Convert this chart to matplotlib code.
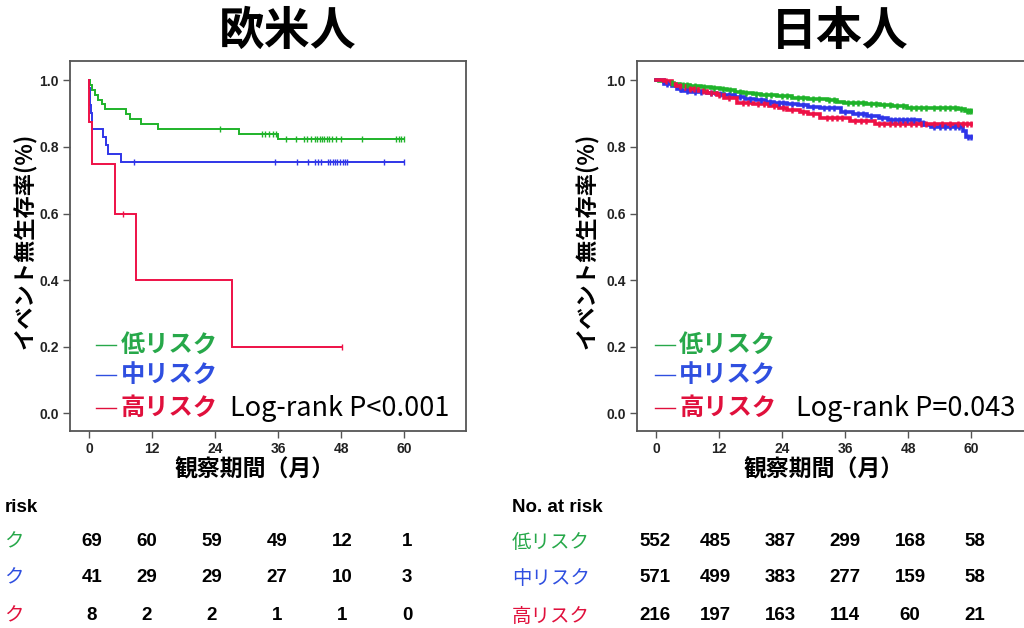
import numpy as np
import matplotlib
matplotlib.use("Agg")
import matplotlib.pyplot as plt

plt.rcParams['font.family'] = ['Noto Sans CJK JP', 'DejaVu Sans']

# ---------------- data ----------------
group_labels = ["低リスク", "中リスク", "高リスク"]
titles = ["欧米人", "日本人"]
pvalues = ["Log-rank P<0.001", "Log-rank P=0.043"]
x_ticks = [0, 12, 24, 36, 48, 60]
y_ticks = [0.0, 0.2, 0.4, 0.6, 0.8, 1.0]

# Western (欧米人) Kaplan-Meier steps: event times and survival after each step
eu_low_t = [0, 0.2, 0.5, 1.1, 1.7, 2.4, 3.0, 7.1, 7.8, 10.0, 13.1, 28.6, 36.0]
eu_low_s = [1.0, 0.986, 0.971, 0.957, 0.942, 0.928, 0.913, 0.899, 0.884, 0.870, 0.855, 0.840, 0.824]
eu_low_end = 60.0
eu_low_cens = [24.9, 32.9, 33.5, 34.2, 35.0, 35.6, 37.5, 39.5, 41.0, 41.6, 42.3, 43.0,
               43.5, 44.0, 44.4, 44.8, 45.3, 45.7, 46.3, 47.0, 48.0, 52.0, 58.5, 59.0, 59.5, 60.0]

eu_mid_t = [0, 0.1, 0.2, 0.3, 0.4, 0.5, 0.6, 2.7, 3.2, 3.7, 6.2]
eu_mid_s = [1.0, 0.976, 0.951, 0.927, 0.902, 0.878, 0.854, 0.829, 0.805, 0.780, 0.756]
eu_mid_end = 60.0
eu_mid_cens = [8.6, 35.4, 39.7, 41.8, 43.1, 43.6, 44.1, 45.5, 45.9, 46.4, 46.8, 47.2,
               47.8, 48.3, 48.8, 49.2, 56.1, 60.0]

eu_high_t = [0, 0.1, 0.6, 4.9, 8.9, 27.3]
eu_high_s = [1.0, 0.875, 0.75, 0.6, 0.4, 0.2]
eu_high_end = 48.1
eu_high_cens = [6.5, 48.1]

# Japanese (日本人)
jp_low_t = [0, 0.5, 1.5, 2.5, 3.5, 4.6, 6.5, 8.5, 10.5, 12.2, 13.5, 15.0, 16.5, 18.5, 20.0,
            23.0, 26.0, 29.0, 32.6, 34.5, 35.8, 40.0, 42.7, 45.0, 47.8, 52.0, 57.5, 58.8]
jp_low_s = [1.0, 0.998, 0.996, 0.993, 0.990, 0.986, 0.984, 0.981, 0.978, 0.975, 0.971, 0.966,
            0.962, 0.958, 0.955, 0.952, 0.948, 0.944, 0.940, 0.936, 0.933, 0.930, 0.927, 0.923,
            0.918, 0.916, 0.914, 0.908]
jp_low_end = 60.0
jp_low_cens = [3.0, 5.2, 6.0, 7.4, 9.1, 11.0, 12.8, 14.2, 16.0, 17.2, 19.0, 21.0, 22.0, 24.0,
               25.0, 27.0, 28.0, 30.0, 31.0, 33.0, 34.0, 36.5, 37.5, 38.5, 39.5, 41.0, 42.0,
               43.5, 44.5, 46.0, 47.0, 48.5, 49.5, 50.5, 51.5, 53.0, 54.0, 55.0, 56.0, 57.0,
               58.0, 59.2, 59.6, 60.0]

jp_mid_t = [0, 1.5, 3.0, 4.0, 5.0, 6.5, 9.7, 11.5, 13.0, 15.0, 17.0, 19.0, 21.0, 22.4, 25.0,
            27.0, 29.0, 31.3, 35.2, 37.5, 40.2, 42.5, 44.1, 50.2, 51.1, 52.4, 58.5, 59.1]
jp_mid_s = [1.0, 0.990, 0.982, 0.975, 0.968, 0.966, 0.962, 0.958, 0.955, 0.950, 0.945, 0.940,
            0.936, 0.932, 0.929, 0.925, 0.921, 0.916, 0.905, 0.900, 0.893, 0.887, 0.881, 0.872,
            0.865, 0.861, 0.848, 0.830]
jp_mid_end = 60.0
jp_mid_cens = [2.2, 4.5, 6.0, 7.5, 8.5, 10.5, 12.2, 14.0, 16.0, 18.0, 20.0, 21.8, 23.5, 24.2,
               26.0, 28.0, 30.0, 32.0, 33.0, 34.0, 36.0, 38.5, 39.5, 41.0, 43.0, 44.8, 45.5,
               46.2, 47.0, 47.8, 48.5, 49.2, 50.8, 53.0, 54.0, 55.0, 56.0, 57.0, 57.8, 59.5, 60.0]

jp_high_t = [0, 1.5, 3.0, 3.9, 5.8, 8.0, 9.7, 11.6, 13.0, 15.4, 18.5, 21.5, 23.5, 25.0, 27.5,
             29.0, 31.3, 37.0, 41.8]
jp_high_s = [1.0, 0.998, 0.990, 0.982, 0.974, 0.968, 0.963, 0.955, 0.948, 0.932, 0.928, 0.923,
             0.918, 0.912, 0.905, 0.898, 0.887, 0.878, 0.868]
jp_high_end = 60.0
jp_high_cens = [2.0, 4.5, 6.5, 7.2, 9.0, 10.5, 12.0, 14.0, 16.5, 17.5, 19.5, 20.5, 22.5, 24.2,
                26.0, 28.0, 30.0, 32.5, 33.5, 34.5, 35.5, 38.0, 39.0, 40.0, 42.5, 43.5, 44.5,
                45.5, 46.5, 47.5, 48.5, 49.5, 50.5, 51.5, 53.0, 54.5, 56.0, 57.5, 58.5, 59.3, 60.0]

# numbers at risk
risk_times = [0, 12, 24, 36, 48, 60]
eu_risk_low = [69, 60, 59, 49, 12, 1]
eu_risk_mid = [41, 29, 29, 27, 10, 3]
eu_risk_high = [8, 2, 2, 1, 1, 0]
jp_risk_low = [552, 485, 387, 299, 168, 58]
jp_risk_mid = [571, 499, 383, 277, 159, 58]
jp_risk_high = [216, 197, 163, 114, 60, 21]

# ---------------- style ----------------
line_colors = ["#1fb32a", "#2f35e8", "#ee1146"]
text_colors = ["#27a84a", "#2f4fe0", "#e0103c"]
W, H = 1024, 628

fig = plt.figure(figsize=(W / 100, H / 100), dpi=100)


def fx(px):
    return px / W


def fy(py):
    return 1 - py / H


def km(ax, t, s, end, cens, color, lw, ms, mew):
    tt = list(t) + [end]
    ss = list(s) + [s[-1]]
    ax.step(tt, ss, where='post', color=color, lw=lw, solid_joinstyle='miter', zorder=3)
    t_arr = np.asarray(t)
    s_arr = np.asarray(s)
    idx = np.searchsorted(t_arr, np.asarray(cens), side='right') - 1
    ax.plot(cens, s_arr[idx], ls='none', marker='|', color=color,
            ms=ms, mew=mew, zorder=4)


panels = [
    dict(left=70, curves=[(eu_low_t, eu_low_s, eu_low_end, eu_low_cens),
                          (eu_mid_t, eu_mid_s, eu_mid_end, eu_mid_cens),
                          (eu_high_t, eu_high_s, eu_high_end, eu_high_cens)],
         lw=1.4, ms=4, mew=1.0, leg_x0=1.4, leg_x1=5.2, txt_x=6.0, p_x=26.8,
         title_x=288, ylab_x=25, xlab_x=255),
    dict(left=637, curves=[(jp_low_t, jp_low_s, jp_low_end, jp_low_cens),
                           (jp_mid_t, jp_mid_s, jp_mid_end, jp_mid_cens),
                           (jp_high_t, jp_high_s, jp_high_end, jp_high_cens)],
         lw=2.6, ms=4.5, mew=1.8, leg_x0=-0.2, leg_x1=3.6, txt_x=4.4, p_x=26.6,
         title_x=840, ylab_x=587, xlab_x=824),
]

ax_w = 396
ax_top, ax_bot = 61, 431
leg_y = [0.205, 0.115, 0.015]

for i, p in enumerate(panels):
    ax = fig.add_axes([fx(p['left']), fy(ax_bot), ax_w / W, (ax_bot - ax_top) / H])
    ax.set_xlim(-3.6, 71.8)
    ax.set_ylim(-0.053, 1.058)
    for sp in ax.spines.values():
        sp.set_color('#555555')
        sp.set_linewidth(1.3)
    ax.set_xticks(x_ticks)
    ax.set_yticks(y_ticks)
    ax.set_yticklabels([f"{v:.1f}" for v in y_ticks])
    ax.tick_params(direction='out', length=5, width=1.0, color='#555555', pad=3)
    for lab in ax.get_xticklabels() + ax.get_yticklabels():
        lab.set_fontfamily('Liberation Sans')
        lab.set_fontweight('bold')
        lab.set_fontsize(10)
        lab.set_color('#222222')

    for (t, s, end, cens), c in zip(p['curves'], line_colors):
        km(ax, t, s, end, cens, c, p['lw'], p['ms'], p['mew'])

    for k in range(3):
        ax.plot([p['leg_x0'], p['leg_x1']], [leg_y[k], leg_y[k]], color=text_colors[k], lw=1.0)
        ax.text(p['txt_x'], leg_y[k], group_labels[k], color=text_colors[k], fontsize=17.5,
                fontweight='bold', va='center', ha='left')
    ax.text(p['p_x'], leg_y[2], pvalues[i], color='black', fontsize=19.5, va='center', ha='left')

    fig.text(fx(p['title_x']), fy(32), titles[i], fontsize=33, fontweight='bold',
             ha='center', va='center')
    fig.text(fx(p['ylab_x']), fy(241), "イベント無生存率(%)", rotation=90, fontsize=16,
             fontweight='bold', ha='center', va='center')
    fig.text(fx(p['xlab_x']), fy(470), "観察期間（月）", fontsize=16.5, fontweight='bold',
             ha='center', va='center')

# risk tables (the left table is cropped in the source: only the last character is visible)
row_y = [542, 578, 616]
tables = [
    dict(head="risk", head_x=5, lab_x=4, crop=True,
         cols=[92, 147, 212, 277, 342, 407], rows=[eu_risk_low, eu_risk_mid, eu_risk_high]),
    dict(head="No. at risk", head_x=512, lab_x=512, crop=False,
         cols=[655, 715, 780, 845, 910, 975], rows=[jp_risk_low, jp_risk_mid, jp_risk_high]),
]
for tb in tables:
    fig.text(fx(tb['head_x']), fy(507), tb['head'], fontfamily='Liberation Sans',
             fontweight='bold', fontsize=13.5, ha='left', va='center')
    for k in range(3):
        lab = group_labels[k][-1] if tb['crop'] else group_labels[k]
        fig.text(fx(tb['lab_x']), fy(row_y[k]), lab, color=text_colors[k],
                 fontsize=14, ha='left', va='center')
        for cx, v in zip(tb['cols'], tb['rows'][k]):
            fig.text(fx(cx), fy(row_y[k]), str(v), fontfamily='Liberation Sans',
                     fontweight='bold', fontsize=13.5, ha='center', va='center')

fig.savefig("out.png", dpi=100)
